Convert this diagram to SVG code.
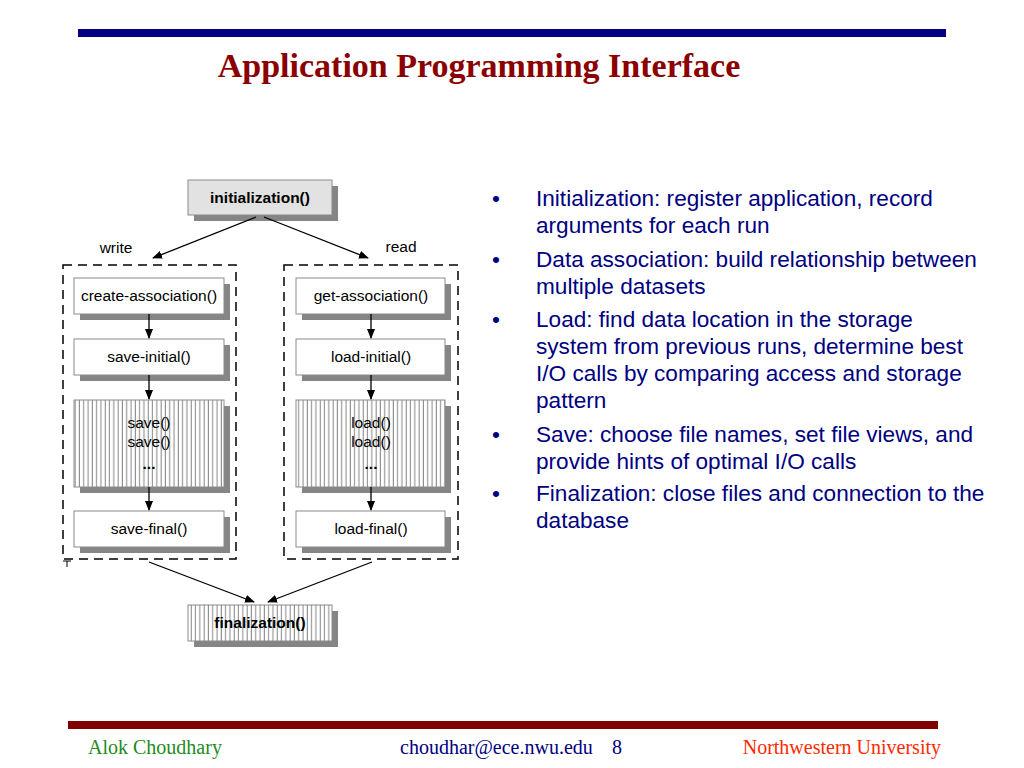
<svg xmlns="http://www.w3.org/2000/svg" width="1024" height="768" viewBox="0 0 1024 768">
<defs>
<style>
.box{fill:#fff;stroke:#8a8a8a;stroke-width:1}
.gbox{fill:#e2e2e2;stroke:#8a8a8a;stroke-width:1}
.hbox{fill:url(#hatch);stroke:#8a8a8a;stroke-width:1}
.sh{fill:#858585}
.lbl{font-family:"Liberation Sans",Arial,sans-serif;font-size:15.5px;fill:#000;text-anchor:middle}
.blbl{font-family:"Liberation Sans",Arial,sans-serif;font-size:15.5px;font-weight:bold;fill:#000;text-anchor:middle}
.cont{fill:none;stroke:#000;stroke-width:1.5;stroke-dasharray:9,6}
.conn line{stroke:#000;stroke-width:1.3}
.bul{font-family:"Liberation Sans",Arial,sans-serif;font-size:22.6px;fill:#000080}
.foot{font-family:"Liberation Serif","Times New Roman",serif;font-size:20px}
</style>
<pattern id="hatch" patternUnits="userSpaceOnUse" width="4.3" height="10">
<rect width="4.3" height="10" fill="#fff"/>
<line x1="2" y1="0" x2="2" y2="10" stroke="#777" stroke-width="0.9"/>
</pattern>
<marker id="ah" markerWidth="10" markerHeight="8" refX="9" refY="4" orient="auto" markerUnits="userSpaceOnUse">
<path d="M0,0 L10,4 L0,8 Z" fill="#000"/>
</marker>
</defs>
<rect width="1024" height="768" fill="#fff"/>
<rect x="78" y="29" width="868" height="8" fill="#000080"/>
<text x="479" y="77" font-family="'Liberation Serif','Times New Roman',serif" font-size="34" font-weight="bold" fill="#8b0000" text-anchor="middle">Application Programming Interface</text>

<rect class="cont" x="63" y="265" width="173" height="294"/>
<rect class="cont" x="284" y="265" width="174" height="294"/>
<path d="M63,561 L71,561 M67,561 L67,567" stroke="#000" stroke-width="1" fill="none"/>

<text x="116" y="253" class="lbl" font-size="15">write</text>
<text x="401" y="252" class="lbl" font-size="15">read</text>

<g id="initialization">
<rect class="sh" x="194" y="186" width="144" height="35"/>
<rect class="gbox" x="188" y="180" width="144" height="35"/>
<text x="260" y="203" class="blbl">initialization()</text>
</g>
<g id="create-association">
<rect class="sh" x="80" y="284" width="150" height="36"/>
<rect class="box" x="74" y="278" width="150" height="36"/>
<text x="149" y="301" class="lbl">create-association()</text>
</g>
<g id="save-initial">
<rect class="sh" x="80" y="345" width="150" height="36"/>
<rect class="box" x="74" y="339" width="150" height="36"/>
<text x="149" y="362" class="lbl">save-initial()</text>
</g>
<g id="save">
<rect class="sh" x="80" y="406" width="150" height="87"/>
<rect class="hbox" x="74" y="400" width="150" height="87"/>
<text x="149" y="428" class="lbl">save()</text>
<text x="149" y="447" class="lbl">save()</text>
<text x="149" y="469" class="blbl">...</text>
</g>
<g id="save-final">
<rect class="sh" x="80" y="517" width="150" height="36"/>
<rect class="box" x="74" y="511" width="150" height="36"/>
<text x="149" y="534" class="lbl">save-final()</text>
</g>
<g id="get-association">
<rect class="sh" x="302" y="284" width="149" height="36"/>
<rect class="box" x="296" y="278" width="149" height="36"/>
<text x="371" y="301" class="lbl">get-association()</text>
</g>
<g id="load-initial">
<rect class="sh" x="302" y="345" width="149" height="36"/>
<rect class="box" x="296" y="339" width="149" height="36"/>
<text x="371" y="362" class="lbl">load-initial()</text>
</g>
<g id="load">
<rect class="sh" x="302" y="406" width="149" height="87"/>
<rect class="hbox" x="296" y="400" width="149" height="87"/>
<text x="371" y="428" class="lbl">load()</text>
<text x="371" y="447" class="lbl">load()</text>
<text x="371" y="469" class="blbl">...</text>
</g>
<g id="load-final">
<rect class="sh" x="302" y="517" width="149" height="36"/>
<rect class="box" x="296" y="511" width="149" height="36"/>
<text x="371" y="534" class="lbl">load-final()</text>
</g>
<g id="finalization">
<rect class="sh" x="194" y="611" width="144" height="36"/>
<rect class="hbox" x="188" y="605" width="144" height="36"/>
<text x="260" y="628" class="blbl">finalization()</text>
</g>

<g class="conn">
<line x1="256" y1="217" x2="153" y2="258" marker-end="url(#ah)"/>
<line x1="264" y1="217" x2="368" y2="258" marker-end="url(#ah)"/>
<line x1="149" y1="314" x2="149" y2="338" marker-end="url(#ah)"/>
<line x1="149" y1="375" x2="149" y2="399" marker-end="url(#ah)"/>
<line x1="149" y1="487" x2="149" y2="510" marker-end="url(#ah)"/>
<line x1="371" y1="314" x2="371" y2="338" marker-end="url(#ah)"/>
<line x1="371" y1="375" x2="371" y2="399" marker-end="url(#ah)"/>
<line x1="371" y1="487" x2="371" y2="510" marker-end="url(#ah)"/>
<line x1="149" y1="562" x2="254" y2="602" marker-end="url(#ah)"/>
<line x1="372" y1="562" x2="268" y2="602" marker-end="url(#ah)"/>
</g>

<g class="bul">
<text x="492" y="206">•</text>
<text x="536" y="206">Initialization: register application, record</text>
<text x="536" y="233">arguments for each run</text>
<text x="492" y="267">•</text>
<text x="536" y="267">Data association: build relationship between</text>
<text x="536" y="294">multiple datasets</text>
<text x="492" y="327">•</text>
<text x="536" y="327">Load: find data location in the storage</text>
<text x="536" y="354">system from previous runs, determine best</text>
<text x="536" y="381">I/O calls by comparing access and storage</text>
<text x="536" y="408">pattern</text>
<text x="492" y="442">•</text>
<text x="536" y="442">Save: choose file names, set file views, and</text>
<text x="536" y="469">provide hints of optimal I/O calls</text>
<text x="492" y="501">•</text>
<text x="536" y="501">Finalization: close files and connection to the</text>
<text x="536" y="528">database</text>
</g>

<rect x="68" y="721" width="870" height="8" fill="#800000"/>
<text x="88" y="754" class="foot" fill="#228b22">Alok Choudhary</text>
<text x="400" y="754" class="foot" fill="#000080">choudhar@ece.nwu.edu</text>
<text x="612" y="754" class="foot" fill="#000080">8</text>
<text x="941" y="754" class="foot" fill="#ff2a00" text-anchor="end">Northwestern University</text>
</svg>
